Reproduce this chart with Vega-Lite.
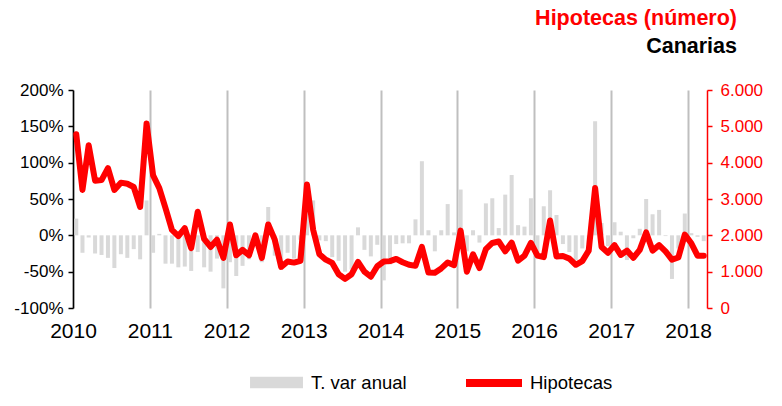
{
  "$schema": "https://vega.github.io/schema/vega-lite/v6.json",
  "width": 634,
  "height": 218,
  "autosize": {"type": "none"},
  "padding": {"left": 73, "top": 90, "right": 75, "bottom": 98},
  "background": "white",
  "config": {
    "font": "Liberation Sans",
    "view": {"stroke": null},
    "axis": {"labelFont": "Liberation Sans"},
    "legend": {"labelFont": "Liberation Sans"}
  },
  "title": {
    "text": "Hipotecas (número)",
    "subtitle": "Canarias",
    "anchor": "end",
    "frame": "group",
    "dx": 30,
    "offset": 24,
    "color": "#ff0000",
    "fontSize": 21.5,
    "fontWeight": "bold",
    "font": "Liberation Sans",
    "subtitleColor": "black",
    "subtitleFontSize": 21.5,
    "subtitleFontWeight": "bold",
    "subtitleFont": "Liberation Sans",
    "subtitlePadding": 6
  },
  "data": {
    "values": [
      {"date": "2010-01-01", "var": 0.23, "hip": 4780},
      {"date": "2010-02-01", "var": -0.24, "hip": 3250},
      {"date": "2010-03-01", "var": -0.03, "hip": 4480},
      {"date": "2010-04-01", "var": -0.25, "hip": 3500},
      {"date": "2010-05-01", "var": -0.27, "hip": 3520},
      {"date": "2010-06-01", "var": -0.31, "hip": 3850},
      {"date": "2010-07-01", "var": -0.45, "hip": 3250},
      {"date": "2010-08-01", "var": -0.26, "hip": 3450},
      {"date": "2010-09-01", "var": -0.31, "hip": 3420},
      {"date": "2010-10-01", "var": -0.19, "hip": 3330},
      {"date": "2010-11-01", "var": -0.33, "hip": 2780},
      {"date": "2010-12-01", "var": 0.48, "hip": 5080},
      {"date": "2011-01-01", "var": -0.24, "hip": 3650},
      {"date": "2011-02-01", "var": 0.02, "hip": 3300},
      {"date": "2011-03-01", "var": -0.39, "hip": 2750},
      {"date": "2011-04-01", "var": -0.39, "hip": 2150},
      {"date": "2011-05-01", "var": -0.44, "hip": 1980},
      {"date": "2011-06-01", "var": -0.43, "hip": 2200},
      {"date": "2011-07-01", "var": -0.49, "hip": 1650},
      {"date": "2011-08-01", "var": -0.23, "hip": 2650},
      {"date": "2011-09-01", "var": -0.44, "hip": 1900},
      {"date": "2011-10-01", "var": -0.50, "hip": 1680},
      {"date": "2011-11-01", "var": -0.32, "hip": 1880},
      {"date": "2011-12-01", "var": -0.73, "hip": 1380},
      {"date": "2012-01-01", "var": -0.37, "hip": 2300},
      {"date": "2012-02-01", "var": -0.56, "hip": 1450},
      {"date": "2012-03-01", "var": -0.42, "hip": 1600},
      {"date": "2012-04-01", "var": -0.33, "hip": 1450},
      {"date": "2012-05-01", "var": 0.01, "hip": 2000},
      {"date": "2012-06-01", "var": -0.37, "hip": 1380},
      {"date": "2012-07-01", "var": 0.39, "hip": 2300},
      {"date": "2012-08-01", "var": -0.28, "hip": 1880},
      {"date": "2012-09-01", "var": -0.41, "hip": 1130},
      {"date": "2012-10-01", "var": -0.24, "hip": 1280},
      {"date": "2012-11-01", "var": -0.32, "hip": 1250},
      {"date": "2012-12-01", "var": -0.06, "hip": 1300},
      {"date": "2013-01-01", "var": 0.48, "hip": 3400},
      {"date": "2013-02-01", "var": 0.48, "hip": 2150},
      {"date": "2013-03-01", "var": -0.07, "hip": 1480},
      {"date": "2013-04-01", "var": -0.08, "hip": 1330},
      {"date": "2013-05-01", "var": -0.30, "hip": 1240},
      {"date": "2013-06-01", "var": -0.35, "hip": 930},
      {"date": "2013-07-01", "var": -0.50, "hip": 800},
      {"date": "2013-08-01", "var": -0.47, "hip": 930},
      {"date": "2013-09-01", "var": 0.11, "hip": 1270},
      {"date": "2013-10-01", "var": -0.20, "hip": 1000},
      {"date": "2013-11-01", "var": -0.29, "hip": 860},
      {"date": "2013-12-01", "var": -0.13, "hip": 1150},
      {"date": "2014-01-01", "var": -0.62, "hip": 1280},
      {"date": "2014-02-01", "var": -0.40, "hip": 1290},
      {"date": "2014-03-01", "var": -0.12, "hip": 1350},
      {"date": "2014-04-01", "var": -0.11, "hip": 1260},
      {"date": "2014-05-01", "var": -0.11, "hip": 1190},
      {"date": "2014-06-01", "var": 0.22, "hip": 1160},
      {"date": "2014-07-01", "var": 1.02, "hip": 1680},
      {"date": "2014-08-01", "var": 0.07, "hip": 980},
      {"date": "2014-09-01", "var": -0.22, "hip": 970},
      {"date": "2014-10-01", "var": 0.07, "hip": 1090},
      {"date": "2014-11-01", "var": 0.43, "hip": 1250},
      {"date": "2014-12-01", "var": 0.04, "hip": 1180},
      {"date": "2015-01-01", "var": 0.63, "hip": 2130},
      {"date": "2015-02-01", "var": -0.22, "hip": 1000},
      {"date": "2015-03-01", "var": 0.07, "hip": 1480},
      {"date": "2015-04-01", "var": -0.10, "hip": 1100},
      {"date": "2015-05-01", "var": 0.44, "hip": 1620},
      {"date": "2015-06-01", "var": 0.51, "hip": 1790},
      {"date": "2015-07-01", "var": 0.10, "hip": 1830},
      {"date": "2015-08-01", "var": 0.56, "hip": 1560},
      {"date": "2015-09-01", "var": 0.83, "hip": 1800},
      {"date": "2015-10-01", "var": 0.14, "hip": 1300},
      {"date": "2015-11-01", "var": 0.12, "hip": 1440},
      {"date": "2015-12-01", "var": 0.51, "hip": 1790},
      {"date": "2016-01-01", "var": -0.32, "hip": 1440},
      {"date": "2016-02-01", "var": 0.40, "hip": 1400},
      {"date": "2016-03-01", "var": 0.62, "hip": 2410},
      {"date": "2016-04-01", "var": 0.28, "hip": 1420},
      {"date": "2016-05-01", "var": -0.12, "hip": 1430},
      {"date": "2016-06-01", "var": -0.23, "hip": 1360},
      {"date": "2016-07-01", "var": -0.34, "hip": 1190},
      {"date": "2016-08-01", "var": -0.18, "hip": 1290},
      {"date": "2016-09-01", "var": -0.12, "hip": 1580},
      {"date": "2016-10-01", "var": 1.57, "hip": 3300},
      {"date": "2016-11-01", "var": 0.17, "hip": 1680},
      {"date": "2016-12-01", "var": -0.15, "hip": 1520},
      {"date": "2017-01-01", "var": 0.18, "hip": 1730},
      {"date": "2017-02-01", "var": 0.05, "hip": 1460},
      {"date": "2017-03-01", "var": -0.34, "hip": 1580},
      {"date": "2017-04-01", "var": -0.04, "hip": 1380},
      {"date": "2017-05-01", "var": 0.09, "hip": 1600},
      {"date": "2017-06-01", "var": 0.50, "hip": 2080},
      {"date": "2017-07-01", "var": 0.29, "hip": 1580},
      {"date": "2017-08-01", "var": 0.35, "hip": 1730},
      {"date": "2017-09-01", "var": -0.01, "hip": 1560},
      {"date": "2017-10-01", "var": -0.60, "hip": 1330},
      {"date": "2017-11-01", "var": -0.18, "hip": 1390},
      {"date": "2017-12-01", "var": 0.30, "hip": 2020},
      {"date": "2018-01-01", "var": 0.03, "hip": 1780},
      {"date": "2018-02-01", "var": -0.02, "hip": 1440},
      {"date": "2018-03-01", "var": -0.08, "hip": 1440}
    ]
  },
  "encoding": {
    "x": {
      "field": "date",
      "type": "temporal",
      "timeUnit": "utcyearmonth",
      "bandPosition": 0.5,
      "scale": {
        "type": "utc",
        "domain": [
          {"year": 2010, "month": 1, "date": 1, "utc": true},
          {"year": 2018, "month": 4, "date": 1, "utc": true}
        ]
      },
      "axis": {
        "title": null,
        "values": [
          {"year": 2010, "month": 1, "date": 1, "utc": true},
          {"year": 2011, "month": 1, "date": 1, "utc": true},
          {"year": 2012, "month": 1, "date": 1, "utc": true},
          {"year": 2013, "month": 1, "date": 1, "utc": true},
          {"year": 2014, "month": 1, "date": 1, "utc": true},
          {"year": 2015, "month": 1, "date": 1, "utc": true},
          {"year": 2016, "month": 1, "date": 1, "utc": true},
          {"year": 2017, "month": 1, "date": 1, "utc": true},
          {"year": 2018, "month": 1, "date": 1, "utc": true}
        ],
        "labelExpr": "utcFormat(datum.value, '%Y')",
        "grid": true,
        "gridColor": "#bfbfbf",
        "gridWidth": 2,
        "domain": false,
        "ticks": false,
        "labelFontSize": 21,
        "labelColor": "black",
        "labelPadding": 12,
        "labelFlush": false,
        "labelOverlap": false,
        "labelBound": false
      }
    }
  },
  "layer": [
    {
      "layer": [
        {
          "mark": {"type": "bar", "width": 4},
          "encoding": {
            "y": {
              "field": "var",
              "type": "quantitative",
              "scale": {"domain": [-1, 2], "nice": false, "zero": false},
              "axis": {
                "title": null,
                "values": [-1, -0.5, 0, 0.5, 1, 1.5, 2],
                "tickCount": 7,
                "labelExpr": "(datum.value < 0 ? '-' : '') + abs(round(datum.value * 100)) + '%'",
                "labelOverlap": false,
                "labelBound": false,
                "labelFlush": false,
                "grid": false,
                "domainColor": "black",
                "domainWidth": 1.5,
                "tickColor": "black",
                "tickWidth": 1.5,
                "tickSize": 5,
                "labelFontSize": 17,
                "labelColor": "black",
                "labelPadding": 5
              }
            },
            "fill": {
              "datum": "T. var anual",
              "type": "nominal",
              "scale": {"range": ["#d9d9d9"]},
              "legend": {
                "title": null,
                "orient": "none",
                "legendX": 177,
                "legendY": 266,
                "labelOffset": 8,
                "symbolType": "M-1,-0.22H1V0.22H-1Z",
                "symbolSize": 2800,
                "symbolStrokeWidth": 0,
                "labelFontSize": 18.5,
                "labelColor": "black"
              }
            }
          }
        },
        {
          "mark": {"type": "rule", "color": "black", "strokeWidth": 1.5},
          "encoding": {
            "y": {
              "datum": 0,
              "type": "quantitative",
              "axis": {
                "title": null,
                "values": [-1, -0.5, 0, 0.5, 1, 1.5, 2],
                "tickCount": 7,
                "labelExpr": "(datum.value < 0 ? '-' : '') + abs(round(datum.value * 100)) + '%'",
                "labelOverlap": false,
                "labelBound": false,
                "labelFlush": false,
                "grid": false,
                "domainColor": "black",
                "domainWidth": 1.5,
                "tickColor": "black",
                "tickWidth": 1.5,
                "tickSize": 5,
                "labelFontSize": 17,
                "labelColor": "black",
                "labelPadding": 5
              }
            }
          }
        }
      ]
    },
    {
      "mark": {"type": "line", "strokeWidth": 6, "strokeJoin": "round", "strokeCap": "round"},
      "encoding": {
        "y": {
          "field": "hip",
          "type": "quantitative",
          "scale": {"domain": [0, 6000], "nice": false},
          "axis": {
            "title": null,
            "orient": "right",
            "values": [0, 1000, 2000, 3000, 4000, 5000, 6000],
            "labelExpr": "replace(format(datum.value, ','), ',', '.')",
            "labelOverlap": false,
            "labelBound": false,
            "labelFlush": false,
            "grid": false,
            "domainColor": "#ff0000",
            "domainWidth": 1.5,
            "tickColor": "#ff0000",
            "tickWidth": 1.5,
            "tickSize": 5,
            "labelFontSize": 17,
            "labelColor": "#ff0000",
            "labelPadding": 8
          }
        },
        "stroke": {
          "datum": "Hipotecas",
          "type": "nominal",
          "scale": {"range": ["#ff0000"]},
          "legend": {
            "title": null,
            "orient": "none",
            "legendX": 389,
            "legendY": 261,
            "labelOffset": 4,
            "symbolType": "stroke",
            "symbolSize": 3136,
            "symbolStrokeWidth": 8,
            "labelFontSize": 18.5,
            "labelColor": "black"
          }
        }
      }
    }
  ],
  "resolve": {"scale": {"y": "independent"}}
}
